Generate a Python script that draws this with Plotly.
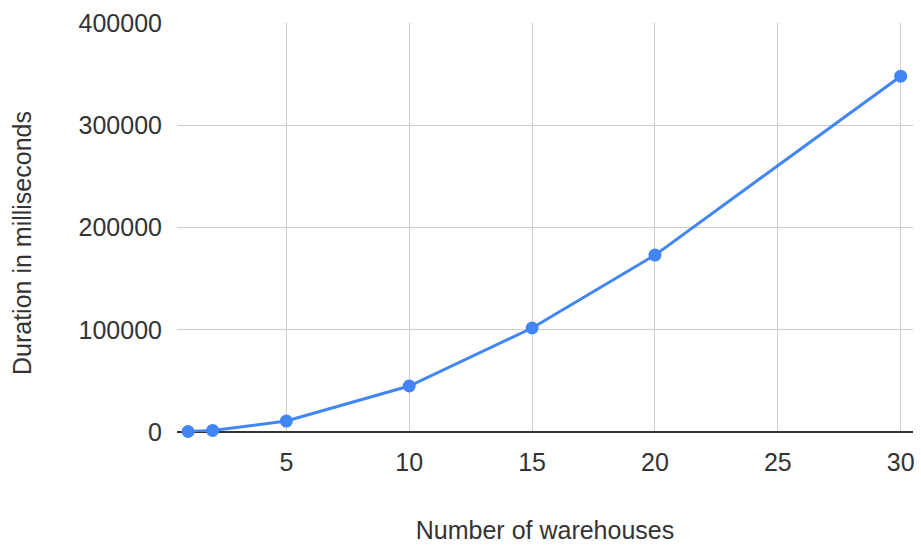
import plotly.graph_objects as go

# Number of warehouses vs. measured run duration (ms)
warehouses = [1, 2, 5, 10, 15, 20, 30]
duration_ms = [500, 1500, 10700, 45000, 101700, 173000, 348000]

x_ticks = [5, 10, 15, 20, 25, 30]
y_ticks = [0, 100000, 200000, 300000, 400000]

fig = go.Figure(
    go.Scatter(
        x=warehouses,
        y=duration_ms,
        mode="lines+markers",
        line=dict(color="#4285F4", width=3),
        marker=dict(color="#4285F4", size=13),
        cliponaxis=False,
    )
)

font = dict(family="Liberation Sans, Arial, sans-serif", size=25, color="#333333")

fig.update_layout(
    width=921,
    height=547,
    margin=dict(l=177, r=6, t=23, b=115),
    paper_bgcolor="white",
    plot_bgcolor="white",
    showlegend=False,
    font=font,
)
fig.update_xaxes(
    range=[0.55, 30.5],
    tickvals=x_ticks,
    ticktext=[str(v) for v in x_ticks],
    showgrid=True,
    gridcolor="#cccccc",
    gridwidth=1,
    zeroline=False,
    showline=False,
    ticks="",
    ticklabelstandoff=13,
    title=dict(text="Number of warehouses", font=font, standoff=46),
)
fig.update_yaxes(
    range=[0, 400000],
    tickvals=y_ticks,
    ticktext=[str(v) for v in y_ticks],
    showgrid=True,
    gridcolor="#cccccc",
    gridwidth=1,
    zeroline=True,
    zerolinecolor="#333333",
    zerolinewidth=2,
    showline=False,
    ticks="",
    ticklabelstandoff=14,
)

# Vertical axis title, placed slightly below the plot-area centre
fig.add_annotation(
    text="Duration in milliseconds",
    textangle=-90,
    xref="paper",
    yref="paper",
    x=0,
    y=0.462,
    xanchor="center",
    yanchor="middle",
    xshift=-155,
    showarrow=False,
    font=font,
)

fig.write_html("out.html")
